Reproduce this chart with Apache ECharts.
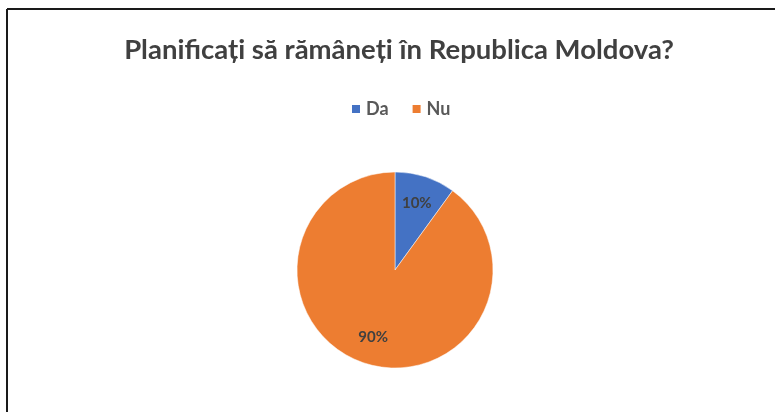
<!DOCTYPE html>
<html>
<head>
<meta charset="utf-8">
<script src="https://cdn.jsdelivr.net/npm/echarts@6/dist/echarts.min.js"></script>
<style>
html,body{margin:0;padding:0;background:#fff;}
#c{width:775px;height:412px;}
</style>
</head>
<body>
<div id="c"></div>
<script>
const titleText = 'Planificați să rămâneți în Republica Moldova?';
const categories = ['Da', 'Nu'];
const values = [10, 90];
const colors = ['#4472C4', '#ED7D31'];

const data = categories.map((n, i) => ({ name: n, value: values[i] }));

const chart = echarts.init(document.getElementById('c'), null, { renderer: 'canvas' });
chart.setOption({
  backgroundColor: '#ffffff',
  animation: false,
  color: colors,
  title: {
    text: titleText,
    left: 394,
    textAlign: 'center',
    top: 31,
    textStyle: { fontFamily: 'Lato', fontWeight: 'bold', fontSize: 27.5, color: '#404040' }
  },
  legend: {
    data: categories,
    top: 95,
    left: 345,
    icon: 'rect',
    itemWidth: 10,
    itemHeight: 10,
    itemGap: 22,
    textStyle: { fontFamily: 'Lato', fontWeight: 'bold', fontSize: 18, color: '#595959' }
  },
  graphic: [
    { type: 'line', shape: { x1: 7, y1: 9, x2: 775, y2: 9 }, style: { stroke: '#1a1a1a', lineWidth: 2 } },
    { type: 'line', shape: { x1: 7, y1: 9, x2: 7, y2: 412 }, style: { stroke: '#1a1a1a', lineWidth: 2 } }
  ],
  series: [
    {
      type: 'pie',
      center: [395, 270],
      radius: [0, 98],
      startAngle: 90,
      clockwise: true,
      silent: true,
      label: { show: false },
      labelLine: { show: false },
      itemStyle: { borderColor: '#ffffff', borderWidth: 0.5 },
      data: data
    },
    {
      type: 'pie',
      center: [395, 270],
      radius: [0, 135],
      startAngle: 90,
      clockwise: true,
      silent: true,
      legendHoverLink: false,
      itemStyle: { color: 'rgba(0,0,0,0)' },
      label: {
        show: true,
        position: 'inside',
        formatter: '{d}%',
        fontFamily: 'Lato',
        fontWeight: 'bold',
        fontSize: 15,
        color: '#404040'
      },
      labelLine: { show: false },
      data: data
    }
  ]
});
</script>
</body>
</html>
